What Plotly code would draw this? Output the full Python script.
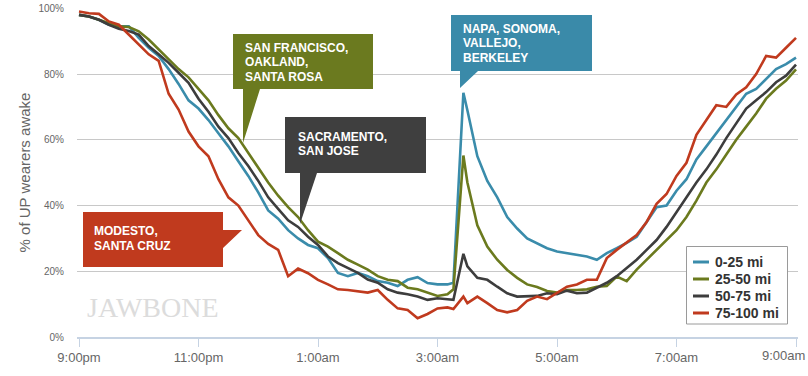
import plotly.graph_objects as go

# ---- data -------------------------------------------------------------
MINUTES = list(range(0, 380, 10)) + [376, 386] + list(range(390, 730, 10))  # minutes after 9:00pm

SERIES_NAMES = ["0-25 mi", "25-50 mi", "50-75 mi", "75-100 mi"]

AWAKE_0_25 = [98, 97.5, 96.5, 95, 94.5, 94.5, 91, 88, 85.5, 81.5,
              77, 72, 69.5, 66, 62, 58, 53.5, 49, 44, 38.5,
              36, 32.5, 30, 28, 27, 24, 19.5, 18.5, 19.5, 18.5,
              17, 16.5, 15.5, 17.4, 18.2, 16.4, 16, 16,
              16.5, 74.3,
              69, 55, 47.5, 42.5, 36.5, 33, 30, 28.6, 27, 26, 25.5,
              25, 24.5, 23.5, 25.5, 27, 28.6, 30.5, 35, 39.5, 40,
              44.5, 48, 54, 58, 62, 66, 70, 74, 75.5, 78.5, 81.5, 83, 85]

AWAKE_25_50 = [98, 97.5, 96.5, 95.5, 94.5, 94.3, 93, 90.5, 87.5, 84.5,
               81.5, 79, 75.5, 72, 67.5, 63.5, 60.5, 56, 51.5, 47,
               43, 39.5, 36.5, 32.5, 29, 27.5, 25.5, 23.5, 22, 20.5,
               18.5, 17.4, 17, 15, 14.5, 13.5, 12.5, 13,
               14.5, 55.2,
               47, 34, 27.5, 23.5, 20.4, 18, 16, 15.2, 14, 13.5, 14.3,
               14.3, 14.5, 15.3, 15.5, 18.4, 17, 20.5, 23.5, 26.5, 29.5,
               32.5, 36.5, 41.5, 47, 51, 55.5, 60, 64, 68, 72.5, 75.5, 78, 81.4]

AWAKE_50_75 = [98, 97.5, 96.5, 95, 93.8, 93.1, 92, 88.5, 86, 83.4,
               80.4, 77.3, 72.5, 68.5, 64, 60.5, 56, 52, 47.5, 42.5,
               39, 35.5, 33.5, 30.5, 28, 24.5, 22.5, 21, 19.5, 17.5,
               16.5, 14.5, 13.5, 13, 12.3, 11.3, 11.8, 11.5,
               11.3, 25.3,
               21.5, 18, 17.4, 15.3, 13.3, 12.3, 12.3, 12.5, 13.3, 13, 14.1,
               13.3, 13.5, 15, 16.5, 18.5, 21, 23.5, 26.5, 29.5, 33.5,
               38, 42.5, 47, 51, 55.5, 60.5, 65, 69.5, 72, 74.5, 77.5, 79.5, 82.9]

AWAKE_75_100 = [99, 98.5, 98.3, 96, 95, 92, 89, 86, 84, 74,
                69.2, 62.5, 58, 55, 48, 42.5, 40, 35.5, 31, 28.3,
                26.5, 18.5, 20.8, 19.4, 17.4, 16, 14.5, 14.3, 14, 13.5,
                14.3, 11.3, 8.7, 8.2, 5.7, 7, 8.7, 9,
                8.5, 12.3,
                10.3, 12.3, 10.3, 8.2, 7.5, 8.2, 11, 12.3, 11.5, 13.3, 15.3,
                16, 17.4, 17.4, 24, 26.5, 28.8, 31, 35, 40.5, 43.5,
                49, 53, 61.5, 66, 70.5, 70, 73.8, 76, 80, 85.5, 85, 88, 91]

TICK_HOURS = [0, 2, 4, 6, 8, 10, 12]
TICK_LABELS = ["9:00pm", "11:00pm", "1:00am", "3:00am", "5:00am", "7:00am", "9:00am"]
Y_TICKS = [0, 20, 40, 60, 80, 100]
Y_LABELS = ["0%", "20%", "40%", "60%", "80%", "100%"]

# ---- style ------------------------------------------------------------
COLORS = ["#3a8cab", "#6b7a1e", "#3d3d3d", "#c03a1e"]
FONT = "Liberation Sans, Arial, sans-serif"

hours = [m / 60 for m in MINUTES]
series = [AWAKE_0_25, AWAKE_25_50, AWAKE_50_75, AWAKE_75_100]

fig = go.Figure()
for name, vals, col in zip(SERIES_NAMES, series, COLORS):
    fig.add_trace(go.Scatter(x=hours, y=vals, name=name, mode="lines",
                             line=dict(color=col, width=2.6), showlegend=False,
                             hoverinfo="skip"))

# pixel -> data helpers (plot area: x 77..798, y 8..337)
def hx(px):
    return (px - 79) / 59.75

def vy(py):
    return (337 - py) / 3.287

def path(points):
    s = "M " + " L ".join(f"{hx(a):.4f},{vy(b):.4f}" for a, b in points) + " Z"
    return s

callouts = [
    ("#6b7a1f", [(233, 34), (373, 34), (373, 89), (260, 89), (243, 143), (243, 89), (233, 89)],
     243, [52.7, 66.7, 81], ["SAN FRANCISCO,", "OAKLAND,", "SANTA ROSA"]),
    ("#3f3f3f", [(285, 117), (426, 117), (426, 173), (317, 173), (300, 224), (300, 173), (285, 173)],
     296, [141.7, 155.7], ["SACRAMENTO,", "SAN JOSE"]),
    ("#3a8aa9", [(451, 15), (592, 15), (592, 71), (478, 71), (460, 88), (460, 71), (451, 71)],
     461, [33.3, 47.5, 62], ["NAPA, SONOMA,", "VALLEJO,", "BERKELEY"]),
    ("#c03a1e", [(83, 212), (223, 212), (223, 230), (242, 230), (223, 248), (223, 267), (83, 267)],
     92, [235, 250], ["MODESTO,", "SANTA CRUZ"]),
]

shapes = []
annotations = []
for col, pts, tx, baselines, lines in callouts:
    shapes.append(dict(type="path", xref="x", yref="y", path=path(pts),
                       fillcolor=col, line=dict(width=0), layer="above"))
    for b, t in zip(baselines, lines):
        annotations.append(dict(x=hx(tx), y=vy(b - 4.3), xref="x", yref="y",
                                text=f"<b>{t}</b>", showarrow=False,
                                xanchor="left", yanchor="middle",
                                font=dict(family=FONT, size=12, color="white")))

# watermark
annotations.append(dict(x=hx(153), y=vy(307), xref="x", yref="y", text="JAWBONE",
                        showarrow=False, xanchor="center", yanchor="middle",
                        font=dict(family="Liberation Serif, serif", size=28, color="#dcdcdc")))

# manual legend
shapes.append(dict(type="rect", xref="x", yref="y", x0=hx(686.5), x1=hx(787.5),
                   y0=vy(246.5), y1=vy(324), fillcolor="white",
                   line=dict(color="#9a9a9a", width=1), layer="above"))
leg_y = [262, 279, 296, 313]
for name, col, yy in zip(SERIES_NAMES, COLORS, leg_y):
    shapes.append(dict(type="line", xref="x", yref="y", x0=hx(693), x1=hx(709),
                       y0=vy(yy), y1=vy(yy), line=dict(color=col, width=3), layer="above"))
    annotations.append(dict(x=hx(713), y=vy(yy), xref="x", yref="y", text=f"<b>{name}</b>",
                            showarrow=False, xanchor="left", yanchor="middle",
                            font=dict(family=FONT, size=14, color="#333333")))

# last x tick label placed flush with the right edge so it is not cut
shown_ticktext = TICK_LABELS[:-1] + [""]
annotations.append(dict(x=(807 - 77) / 721, y=(337 - 355) / 329, xref="paper", yref="paper",
                        text=TICK_LABELS[-1], showarrow=False,
                        xanchor="right", yanchor="middle",
                        font=dict(family=FONT, size=13, color="#666666")))

fig.update_layout(
    width=808, height=376,
    margin=dict(l=77, r=10, t=8, b=39, autoexpand=False),
    paper_bgcolor="white", plot_bgcolor="white",
    shapes=shapes, annotations=annotations,
    showlegend=False,
    xaxis=dict(range=[hx(77), hx(798)], tickvals=TICK_HOURS, ticktext=shown_ticktext,
               automargin=False, ticklabeloverflow="allow",
               showgrid=False, zeroline=False, showline=True, linecolor="#c6d3e3",
               linewidth=1.5, ticks="outside", ticklen=8, tickcolor="#c6d3e3",
               tickfont=dict(family=FONT, size=13, color="#666666")),
    yaxis=dict(range=[0, vy(8)], tickvals=Y_TICKS, ticktext=Y_LABELS,
               automargin=False, ticklabeloverflow="allow",
               showgrid=True, gridcolor="#c8c8c8", gridwidth=1, zeroline=False,
               ticks="", ticklabelstandoff=12,
               tickfont=dict(family=FONT, size=10, color="#666666"),
               title=dict(text="% of UP wearers awake", standoff=4,
                          font=dict(family=FONT, size=15, color="#666666"))),
)

fig.write_html("out.html", config={"displayModeBar": False},
               post_script="document.body.style.margin='0';document.body.style.overflow='hidden';")
